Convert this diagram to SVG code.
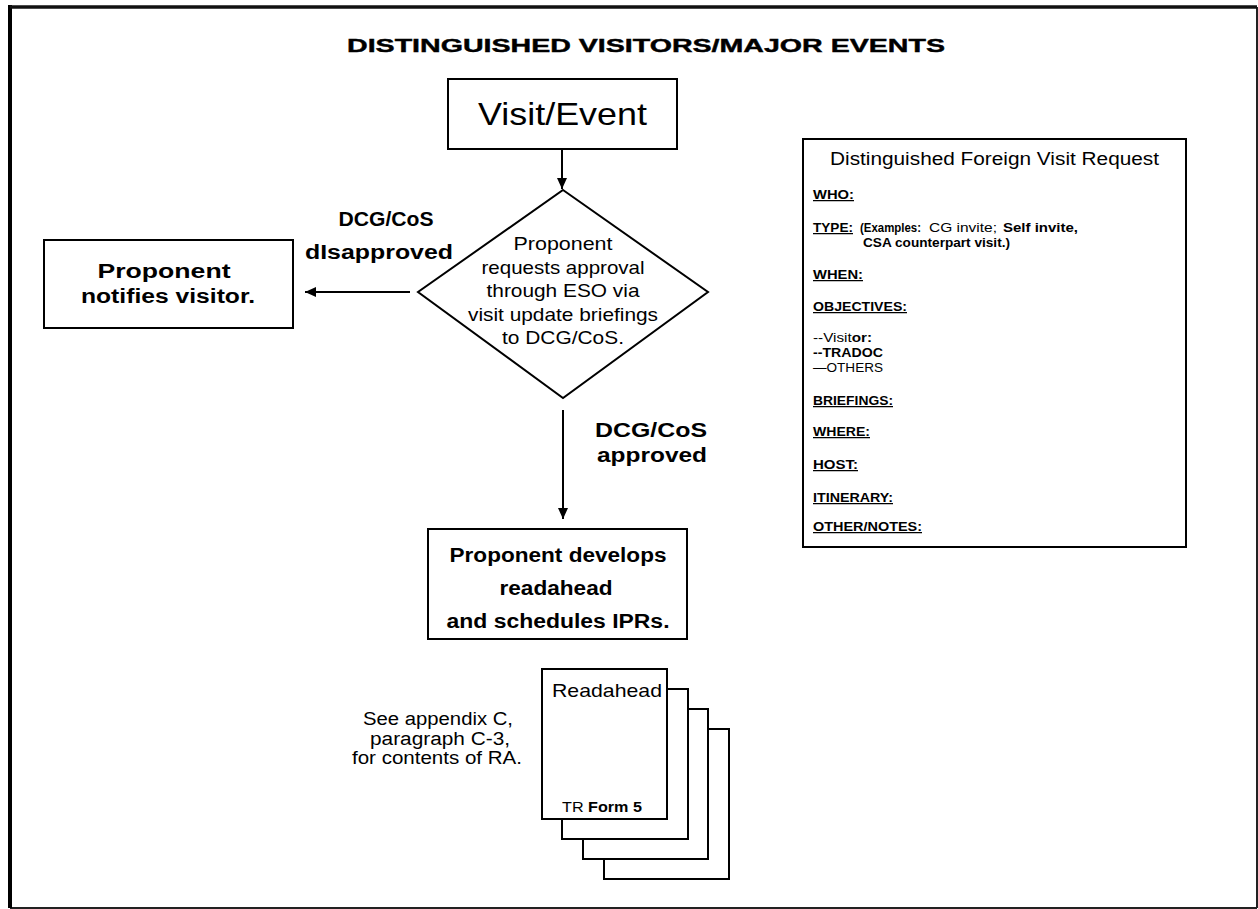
<svg xmlns="http://www.w3.org/2000/svg" width="1258" height="909" viewBox="0 0 1258 909">
<style>
text{font-family:"Liberation Sans",Arial,sans-serif;fill:#000}
.b{font-weight:bold}
.box{fill:#fff;stroke:#000;stroke-width:2}
.ln{stroke:#000;stroke-width:2;fill:none}
.h{font-size:12.5px;font-weight:bold;text-decoration:underline}
.s{font-size:12.5px}
</style>
<defs>
<marker id="ah" markerUnits="userSpaceOnUse" markerWidth="12" markerHeight="10" refX="11" refY="5" orient="auto">
<path d="M0,0 L11,5 L0,10 z" fill="#000"/>
</marker>
</defs>
<rect x="0" y="0" width="1258" height="909" fill="#fff"/>
<g id="frame">
<path d="M10,7 H1257 M1257,7 V908 M10,908 H1257" stroke="#222" stroke-width="2" fill="none"/>
<path d="M10,5 V908" stroke="#000" stroke-width="4"/>
<path d="M10,7 H1257" stroke="#111" stroke-width="3.5"/>
</g>
<g id="title">
<text x="347" y="52" class="b" font-size="18" stroke="#000" stroke-width="0.4" textLength="598" lengthAdjust="spacingAndGlyphs">DISTINGUISHED VISITORS/MAJOR EVENTS</text>
</g>
<g id="connectors">
<line class="ln" x1="562" y1="149" x2="562" y2="189" marker-end="url(#ah)"/>
<line class="ln" x1="410" y1="292" x2="305" y2="292" marker-end="url(#ah)"/>
<line class="ln" x1="563" y1="410" x2="563" y2="519" marker-end="url(#ah)"/>
</g>
<g id="visit-event">
<rect class="box" x="448" y="79" width="229" height="70"/>
<text x="478" y="125" font-size="32" textLength="169" lengthAdjust="spacingAndGlyphs">Visit/Event</text>
</g>
<g id="decision">
<polygon class="box" points="563,190 708,292 563,398 418,292"/>
<g font-size="18.5" text-anchor="middle">
<text x="563" y="250" textLength="99" lengthAdjust="spacingAndGlyphs">Proponent</text>
<text x="563" y="273.5" textLength="163" lengthAdjust="spacingAndGlyphs">requests approval</text>
<text x="563" y="297" textLength="153" lengthAdjust="spacingAndGlyphs">through ESO via</text>
<text x="563" y="320.5" textLength="190" lengthAdjust="spacingAndGlyphs">visit update briefings</text>
<text x="563" y="344" textLength="122" lengthAdjust="spacingAndGlyphs">to DCG/CoS.</text>
</g>
</g>
<g id="label-disapproved" class="b" font-size="20" text-anchor="middle">
<text x="386" y="226" textLength="95" lengthAdjust="spacingAndGlyphs">DCG/CoS</text>
<text x="379" y="259" textLength="148" lengthAdjust="spacingAndGlyphs">dIsapproved</text>
</g>
<g id="notify-visitor">
<rect class="box" x="44" y="240" width="249" height="88"/>
<g class="b" font-size="20" text-anchor="middle">
<text x="164" y="278" textLength="133" lengthAdjust="spacingAndGlyphs">Proponent</text>
<text x="168" y="303" textLength="174" lengthAdjust="spacingAndGlyphs">notifies visitor.</text>
</g>
</g>
<g id="label-approved" class="b" font-size="20" text-anchor="middle">
<text x="651" y="437" textLength="112" lengthAdjust="spacingAndGlyphs">DCG/CoS</text>
<text x="652" y="462" textLength="110" lengthAdjust="spacingAndGlyphs">approved</text>
</g>
<g id="develops-readahead">
<rect class="box" x="428" y="529" width="259" height="110"/>
<g class="b" font-size="20" text-anchor="middle">
<text x="558" y="562" textLength="217" lengthAdjust="spacingAndGlyphs">Proponent develops</text>
<text x="556" y="595" textLength="113" lengthAdjust="spacingAndGlyphs">readahead</text>
<text x="558" y="628" textLength="223" lengthAdjust="spacingAndGlyphs">and schedules IPRs.</text>
</g>
</g>
<g id="see-appendix" font-size="18" text-anchor="middle">
<text x="438" y="725" textLength="150" lengthAdjust="spacingAndGlyphs">See appendix C,</text>
<text x="440" y="745" textLength="140" lengthAdjust="spacingAndGlyphs">paragraph C-3,</text>
<text x="437" y="764" textLength="170" lengthAdjust="spacingAndGlyphs">for contents of RA.</text>
</g>
<g id="readahead-stack">
<rect class="box" x="604" y="729" width="125" height="150"/>
<rect class="box" x="583" y="709" width="125" height="150"/>
<rect class="box" x="562" y="689" width="126" height="150"/>
<rect class="box" x="542" y="669" width="125" height="150"/>
<text x="552" y="697" font-size="19" textLength="110" lengthAdjust="spacingAndGlyphs">Readahead</text>
<text x="562" y="812" font-size="15" textLength="80" lengthAdjust="spacingAndGlyphs">TR <tspan class="b">Form 5</tspan></text>
</g>
<g id="visit-request-form">
<rect class="box" x="803" y="139" width="383" height="408" stroke-width="2.5"/>
<text x="830" y="165" font-size="18" textLength="329" lengthAdjust="spacingAndGlyphs">Distinguished Foreign Visit Request</text>
<text x="813" y="199" class="h" textLength="41" lengthAdjust="spacingAndGlyphs">WHO:</text>
<text x="813" y="232" class="h" textLength="40" lengthAdjust="spacingAndGlyphs">TYPE:</text>
<text x="860" y="232" class="s b" textLength="61" lengthAdjust="spacingAndGlyphs">(Examples:</text>
<text x="929" y="232" class="s" textLength="68" lengthAdjust="spacingAndGlyphs">CG invite;</text>
<text x="1003" y="232" class="b" font-size="13.5" textLength="75" lengthAdjust="spacingAndGlyphs">Self invite,</text>
<text x="863" y="247" class="s b" textLength="147" lengthAdjust="spacingAndGlyphs">CSA counterpart visit.)</text>
<text x="813" y="279" class="h" textLength="50" lengthAdjust="spacingAndGlyphs">WHEN:</text>
<text x="813" y="311" class="h" textLength="94" lengthAdjust="spacingAndGlyphs">OBJECTIVES:</text>
<text x="813" y="342" class="s" textLength="59" lengthAdjust="spacingAndGlyphs">--Visit<tspan class="b">or:</tspan></text>
<text x="813" y="357" class="s b" textLength="70" lengthAdjust="spacingAndGlyphs">--TRADOC</text>
<text x="813" y="372" class="s" textLength="70" lengthAdjust="spacingAndGlyphs">—OTHERS</text>
<text x="813" y="405" class="h" textLength="80" lengthAdjust="spacingAndGlyphs">BRIEFINGS:</text>
<text x="813" y="436" class="h" textLength="57" lengthAdjust="spacingAndGlyphs">WHERE:</text>
<text x="813" y="469" class="h" textLength="45" lengthAdjust="spacingAndGlyphs">HOST:</text>
<text x="813" y="502" class="h" textLength="80" lengthAdjust="spacingAndGlyphs">ITINERARY:</text>
<text x="813" y="531" class="h" textLength="109" lengthAdjust="spacingAndGlyphs">OTHER/NOTES:</text>
</g>
</svg>
